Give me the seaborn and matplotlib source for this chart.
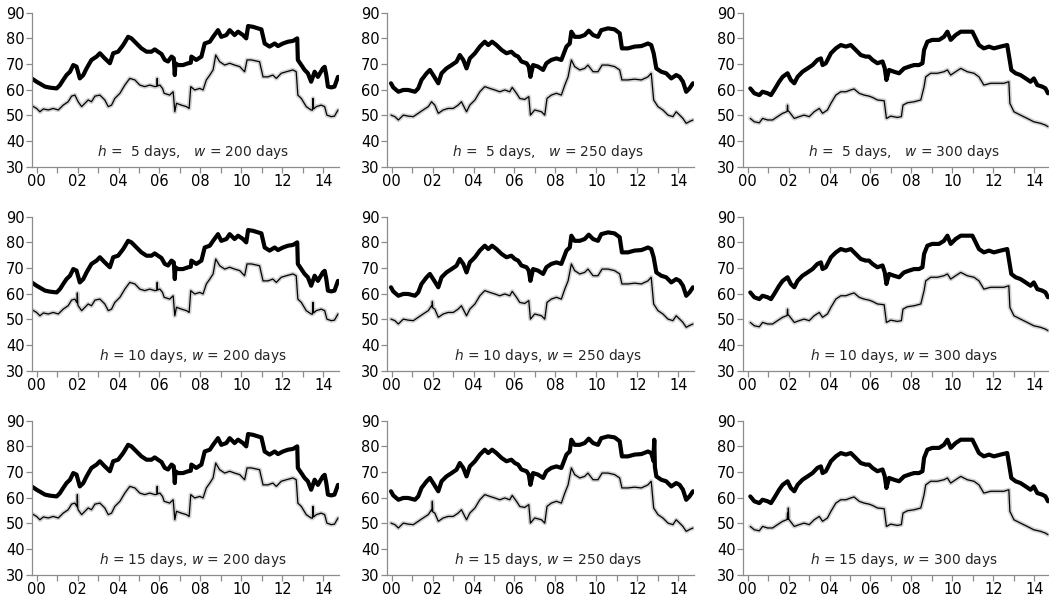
import numpy as np
import pandas as pd
import matplotlib
matplotlib.use("Agg")
import matplotlib.pyplot as plt
import seaborn as sns

# ---------------------------------------------------------------------------
# Series values (decimal year, level) for each estimation window w.
# Thick line = upper series, thin line = lower series.
# ---------------------------------------------------------------------------
w200_thick_t = [1999.76, 2000.00, 2000.41, 2000.65, 2000.98, 2001.14, 2001.30, 2001.46, 2001.63, 2001.79,
                2001.95, 2002.11, 2002.28, 2002.44, 2002.68, 2002.93, 2003.09, 2003.33, 2003.58, 2003.74,
                2003.98, 2004.23, 2004.47, 2004.63, 2004.88, 2005.12, 2005.37, 2005.61, 2005.77, 2005.93,
                2006.10, 2006.26, 2006.42, 2006.59, 2006.70, 2006.75, 2006.78, 2006.91, 2007.15, 2007.40,
                2007.53, 2007.56, 2007.80, 2008.05, 2008.21, 2008.46, 2008.62, 2008.86, 2009.02, 2009.27,
                2009.43, 2009.67, 2009.84, 2010.08, 2010.24, 2010.33, 2010.57, 2010.81, 2010.98, 2011.14,
                2011.38, 2011.63, 2011.79, 2012.03, 2012.28, 2012.52, 2012.73, 2012.76, 2012.93, 2013.09,
                2013.25, 2013.41, 2013.58, 2013.74, 2013.98, 2014.07, 2014.15, 2014.23, 2014.39, 2014.55,
                2014.72]
w200_thick_v = [64.4, 63.1, 61.2, 60.8, 60.5, 61.8, 63.8, 65.7, 67.0, 69.6,
                69.0, 64.4, 65.7, 68.3, 71.6, 72.9, 74.2, 72.2, 70.3, 74.2,
                74.8, 77.4, 80.6, 80.0, 78.0, 76.1, 74.8, 74.8, 75.7, 74.8,
                73.9, 71.6, 71.0, 72.9, 72.2, 65.7, 70.3, 69.6, 69.6, 70.3,
                70.5, 72.9, 71.6, 72.9, 78.0, 78.7, 80.6, 83.2, 80.6, 81.3,
                83.2, 81.3, 82.6, 81.3, 80.0, 84.8, 84.5, 83.9, 83.5, 78.0,
                76.8, 78.0, 77.0, 78.0, 78.7, 79.0, 80.0, 71.6, 69.6, 67.7,
                66.4, 63.1, 67.0, 65.0, 68.3, 68.9, 65.7, 61.2, 60.9, 61.2,
                65.0]

w200_thin_t = [1999.76, 2000.00, 2000.16, 2000.33, 2000.57, 2000.81, 2001.06, 2001.30, 2001.54, 2001.71,
               2001.87, 2002.03, 2002.20, 2002.36, 2002.52, 2002.68, 2002.85, 2003.09, 2003.33, 2003.50,
               2003.66, 2003.82, 2004.07, 2004.31, 2004.55, 2004.80, 2005.04, 2005.28, 2005.53, 2005.77,
               2005.87, 2005.89, 2005.91, 2006.02, 2006.15, 2006.23, 2006.50, 2006.67, 2006.75, 2006.83,
               2007.07, 2007.32, 2007.45, 2007.53, 2007.72, 2007.97, 2008.13, 2008.29, 2008.46, 2008.62,
               2008.75, 2008.94, 2009.19, 2009.43, 2009.67, 2009.92, 2010.16, 2010.28, 2010.49, 2010.89,
               2011.06, 2011.30, 2011.54, 2011.71, 2011.95, 2012.20, 2012.52, 2012.68, 2012.76, 2012.93,
               2013.17, 2013.41, 2013.47, 2013.50, 2013.53, 2013.66, 2013.90, 2014.07, 2014.18, 2014.39,
               2014.55, 2014.72]
w200_thin_v = [53.8, 52.7, 51.4, 52.5, 52.1, 52.7, 52.1, 54.0, 55.3, 57.5,
               57.9, 55.3, 53.4, 54.7, 56.0, 55.3, 57.5, 57.9, 56.0, 53.4,
               54.0, 56.6, 58.6, 61.8, 64.4, 63.8, 61.8, 61.2, 61.8, 61.2,
               61.3, 64.4, 61.5, 61.8, 60.5, 58.6, 57.9, 59.2, 51.4, 54.7,
               54.0, 53.4, 52.7, 61.2, 59.9, 60.5, 59.9, 63.8, 65.7, 67.7,
               73.5, 70.9, 69.6, 70.3, 69.6, 69.0, 67.0, 71.6, 71.6, 70.9,
               65.0, 65.0, 65.7, 64.4, 66.4, 67.0, 67.7, 67.0, 57.9, 56.6,
               53.4, 52.1, 52.0, 56.6, 52.5, 53.4, 54.0, 53.4, 50.1, 49.5,
               49.7, 52.1]

w250_thick_t = [1999.97, 2000.08, 2000.33, 2000.57, 2000.81, 2001.14, 2001.30, 2001.46, 2001.71, 2001.87,
                2002.03, 2002.28, 2002.44, 2002.68, 2002.93, 2003.17, 2003.33, 2003.50, 2003.66, 2003.82,
                2004.07, 2004.31, 2004.55, 2004.72, 2004.91, 2005.12, 2005.37, 2005.61, 2005.85, 2006.02,
                2006.18, 2006.34, 2006.59, 2006.70, 2006.78, 2006.91, 2007.15, 2007.40, 2007.56, 2007.80,
                2008.05, 2008.29, 2008.54, 2008.70, 2008.78, 2008.94, 2009.19, 2009.43, 2009.63, 2009.84,
                2010.08, 2010.24, 2010.57, 2010.89, 2011.14, 2011.25, 2011.54, 2011.87, 2012.20, 2012.52,
                2012.68, 2012.80, 2012.93, 2013.17, 2013.41, 2013.66, 2013.90, 2014.07, 2014.23, 2014.39,
                2014.55, 2014.72]
w250_thick_v = [62.5, 60.9, 59.2, 59.9, 59.9, 59.2, 60.5, 63.8, 66.4, 67.7,
                65.7, 62.5, 66.4, 68.3, 69.6, 70.9, 73.5, 71.6, 68.3, 72.2,
                74.2, 76.8, 78.7, 77.4, 78.7, 77.4, 75.5, 74.2, 74.8, 73.5,
                72.9, 71.0, 70.3, 69.0, 65.0, 69.6, 69.0, 67.7, 70.3, 71.6,
                72.2, 71.6, 76.8, 78.0, 82.6, 80.6, 80.6, 81.3, 83.0, 81.3,
                80.6, 83.2, 83.9, 83.5, 82.0, 76.1, 76.1, 76.8, 77.0, 78.0,
                77.4, 74.2, 68.3, 67.0, 66.4, 64.4, 65.7, 65.0, 63.1, 59.2,
                60.5, 62.5]

w250_thin_t = [1999.97, 2000.16, 2000.33, 2000.57, 2000.81, 2001.06, 2001.30, 2001.54, 2001.79, 2001.95,
               2002.11, 2002.28, 2002.52, 2002.76, 2003.01, 2003.25, 2003.41, 2003.66, 2003.82, 2004.07,
               2004.31, 2004.55, 2004.80, 2005.04, 2005.28, 2005.53, 2005.77, 2005.89, 2006.10, 2006.26,
               2006.50, 2006.70, 2006.78, 2006.99, 2007.32, 2007.48, 2007.59, 2007.80, 2008.05, 2008.29,
               2008.46, 2008.62, 2008.78, 2008.94, 2009.19, 2009.43, 2009.59, 2009.84, 2010.08, 2010.28,
               2010.57, 2010.89, 2011.14, 2011.25, 2011.54, 2011.87, 2012.20, 2012.52, 2012.68, 2012.80,
               2013.01, 2013.25, 2013.50, 2013.74, 2013.90, 2014.07, 2014.23, 2014.39, 2014.55, 2014.72]
w250_thin_v = [50.1, 49.5, 48.2, 50.1, 49.7, 49.5, 50.8, 52.1, 53.4, 55.3,
               54.0, 50.8, 52.1, 52.7, 52.7, 54.0, 55.3, 51.4, 54.0, 56.0,
               59.2, 61.2, 60.5, 59.9, 59.2, 59.9, 59.2, 60.9, 58.6, 56.6,
               56.2, 57.3, 50.1, 52.1, 51.4, 50.1, 56.6, 57.9, 58.6, 57.9,
               61.8, 65.0, 71.6, 69.0, 67.7, 68.3, 69.6, 67.0, 67.0, 69.6,
               69.6, 69.0, 67.7, 63.8, 63.8, 64.1, 63.8, 65.0, 66.4, 56.0,
               53.4, 52.1, 50.1, 49.5, 51.4, 50.1, 48.8, 46.9, 47.6, 48.2]

w300_thick_t = [2000.13, 2000.33, 2000.57, 2000.73, 2000.98, 2001.14, 2001.30, 2001.54, 2001.71, 2001.95,
                2002.11, 2002.28, 2002.44, 2002.68, 2002.93, 2003.17, 2003.41, 2003.58, 2003.66, 2003.82,
                2004.07, 2004.31, 2004.55, 2004.80, 2005.04, 2005.28, 2005.53, 2005.77, 2005.93, 2006.10,
                2006.34, 2006.59, 2006.70, 2006.78, 2006.91, 2007.15, 2007.40, 2007.64, 2007.89, 2008.13,
                2008.37, 2008.54, 2008.62, 2008.78, 2009.02, 2009.35, 2009.59, 2009.76, 2009.92, 2010.16,
                2010.41, 2010.73, 2010.98, 2011.14, 2011.30, 2011.54, 2011.79, 2012.03, 2012.36, 2012.68,
                2012.80, 2012.88, 2013.09, 2013.33, 2013.58, 2013.82, 2013.98, 2014.15, 2014.39, 2014.55,
                2014.67]
w300_thick_v = [60.5, 58.6, 57.9, 59.2, 58.6, 57.9, 59.9, 63.1, 65.0, 66.4,
                63.8, 62.5, 65.0, 67.0, 68.3, 69.6, 71.6, 72.2, 69.6, 70.3,
                74.2, 76.1, 77.4, 76.8, 77.4, 75.5, 73.5, 72.9, 72.9, 71.6,
                70.3, 71.0, 68.3, 63.8, 67.7, 67.0, 66.4, 68.3, 69.0, 69.6,
                69.6, 70.3, 75.5, 78.7, 79.4, 79.4, 80.6, 82.6, 79.4, 81.3,
                82.6, 82.6, 82.6, 80.0, 77.4, 76.1, 76.8, 76.1, 76.8, 77.4,
                71.6, 67.7, 66.4, 65.7, 64.4, 63.1, 64.4, 61.8, 61.2, 60.5,
                58.6]

w300_thin_t = [2000.13, 2000.33, 2000.57, 2000.73, 2000.98, 2001.22, 2001.46, 2001.71, 2001.93, 2001.95,
               2001.97, 2002.03, 2002.28, 2002.52, 2002.76, 2003.01, 2003.25, 2003.50, 2003.66, 2003.90,
               2004.07, 2004.31, 2004.55, 2004.80, 2005.04, 2005.20, 2005.45, 2005.69, 2005.93, 2006.10,
               2006.34, 2006.67, 2006.78, 2006.99, 2007.32, 2007.51, 2007.59, 2007.80, 2008.13, 2008.46,
               2008.62, 2008.70, 2008.94, 2009.27, 2009.59, 2009.76, 2009.92, 2010.16, 2010.41, 2010.73,
               2011.06, 2011.30, 2011.54, 2011.87, 2012.20, 2012.52, 2012.76, 2012.81, 2013.01, 2013.33,
               2013.66, 2013.98, 2014.31, 2014.55, 2014.67]
w300_thin_v = [48.8, 47.5, 47.1, 48.8, 48.2, 48.2, 49.5, 50.8, 51.5, 54.0,
               51.8, 51.4, 48.8, 49.5, 50.1, 49.5, 51.4, 52.7, 50.8, 52.1,
               54.7, 57.9, 59.2, 59.2, 59.9, 60.3, 58.6, 57.9, 57.5, 57.0,
               56.0, 55.7, 48.8, 49.7, 49.2, 49.5, 54.0, 54.9, 55.3, 56.0,
               61.2, 65.0, 66.4, 66.4, 67.0, 67.7, 65.7, 67.0, 68.3, 67.0,
               66.4, 65.0, 61.8, 62.5, 62.5, 62.5, 63.1, 54.7, 51.4, 50.1,
               48.8, 47.5, 46.9, 46.2, 45.6]

horizons = [5, 10, 15]          # h, rows
windows = [200, 250, 300]       # w, columns

# Short-lived spikes that appear only for particular (h, w) pairs,
# each given as three (year, level) points: before, peak, after.
thin_spike_h = [10, 15, 10, 15, 15]
thin_spike_w = [200, 200, 250, 250, 300]
thin_spike_t = [(2001.97, 2001.99, 2002.01)] * 5
thin_spike_v = [(56.5, 60.3, 56.0), (56.5, 61.2, 56.0), (54.8, 57.0, 54.5),
                (54.8, 58.6, 54.5), (51.6, 56.0, 51.6)]
thick_spike_h = [15]
thick_spike_w = [250]
thick_spike_t = [(2012.80, 2012.83, 2012.86)]
thick_spike_v = [(77.4, 82.6, 72.0)]

series = {
    (200, "thick"): (w200_thick_t, w200_thick_v),
    (200, "thin"): (w200_thin_t, w200_thin_v),
    (250, "thick"): (w250_thick_t, w250_thick_v),
    (250, "thin"): (w250_thin_t, w250_thin_v),
    (300, "thick"): (w300_thick_t, w300_thick_v),
    (300, "thin"): (w300_thin_t, w300_thin_v),
}
spikes = {
    "thin": (thin_spike_h, thin_spike_w, thin_spike_t, thin_spike_v),
    "thick": (thick_spike_h, thick_spike_w, thick_spike_t, thick_spike_v),
}

sns.set_style("ticks")
plt.rcParams["font.family"] = ["DejaVu Sans"]
plt.rcParams["mathtext.fontset"] = "dejavusans"

W, H = 1049, 599
fig = plt.figure(figsize=(W / 100, H / 100), dpi=100)

lefts_px = [31.7, 386.7, 742.7]
tops_px = [12.7, 216.7, 420.7]
width_px, height_px = 307.5, 154.0
axis_grey = "#8c8c8c"


def build(w, kind, h):
    t, v = series[(w, kind)]
    pts = list(zip(t, v))
    for sh, sw, tt, vv in zip(*spikes[kind]):
        if sh == h and sw == w:
            pts += list(zip(tt, vv))
    pts.sort()
    return pd.DataFrame(pts, columns=["year", "level"])


for r, h in enumerate(horizons):
    for c, w in enumerate(windows):
        ax = fig.add_axes([lefts_px[c] / W, 1 - (tops_px[r] + height_px) / H,
                           width_px / W, height_px / H])
        thin = build(w, "thin", h)
        thick = build(w, "thick", h)

        # light band around the lower series, then the two lines
        sns.lineplot(data=thin, x="year", y="level", ax=ax, color="#d2d2d2",
                     linewidth=3.2, estimator=None, sort=False)
        sns.lineplot(data=thin, x="year", y="level", ax=ax, color="black",
                     linewidth=0.9, estimator=None, sort=False)
        sns.lineplot(data=thick, x="year", y="level", ax=ax, color="black",
                     linewidth=3.0, estimator=None, sort=False)

        ax.set_xlim(1999.76, 2014.78)
        ax.set_ylim(30, 90)
        ax.set_yticks(range(30, 91, 10))
        ax.set_xticks(range(2000, 2015, 2))
        ax.set_xticklabels([f"{y % 100:02d}" for y in range(2000, 2015, 2)])
        ax.set_xticks(range(2001, 2015, 2), minor=True)
        ax.set_xlabel("")
        ax.set_ylabel("")
        for side in ("top", "right"):
            ax.spines[side].set_visible(False)
        for side in ("left", "bottom"):
            ax.spines[side].set_color(axis_grey)
            ax.spines[side].set_linewidth(0.9)
        ax.tick_params(axis="both", which="both", direction="out", color=axis_grey,
                       width=0.9, length=4, labelsize=10.5, labelcolor="black", pad=1.0)

        if h < 10:
            label = rf"$h$ =  {h} days,   $w$ = {w} days"
        else:
            label = rf"$h$ = {h} days, $w$ = {w} days"
        ax.text(2007.65, 35.8, label, ha="center", va="center", fontsize=9.9)

fig.savefig("out.png", dpi=100)
